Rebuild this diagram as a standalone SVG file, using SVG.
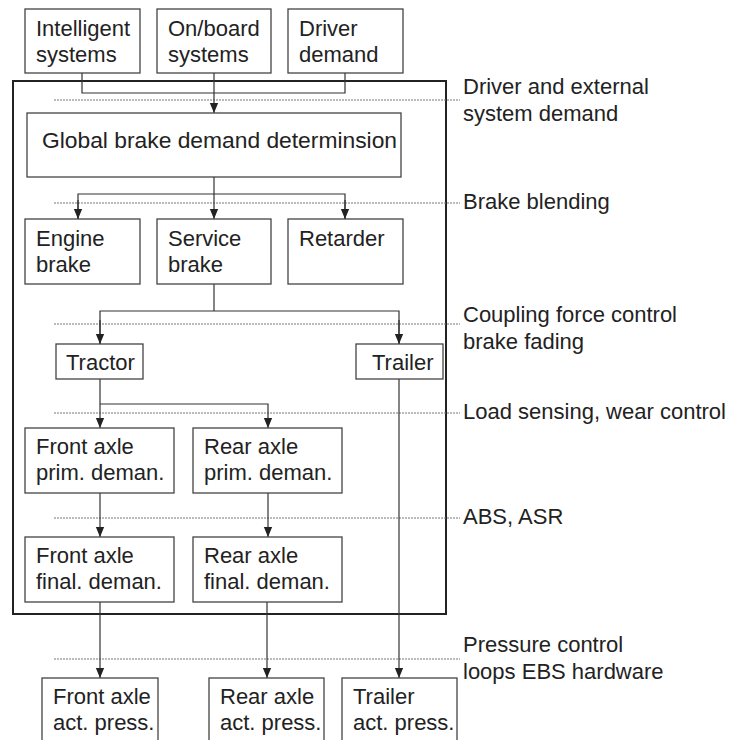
<svg xmlns="http://www.w3.org/2000/svg" width="736" height="740" viewBox="0 0 736 740">
<style>
.box{fill:#fff;stroke:#444;stroke-width:1.3}
.outer{fill:none;stroke:#222;stroke-width:2}
.t{font-family:"Liberation Sans",Arial,sans-serif;font-size:22px;fill:#222}
.c{fill:none;stroke:#333;stroke-width:1.2}
.d{fill:none;stroke:#777;stroke-width:1;stroke-dasharray:2 1}
</style>
<defs>
<marker id="ah" markerUnits="userSpaceOnUse" markerWidth="10" markerHeight="12" viewBox="0 0 10 12" refX="5" refY="12" orient="auto-start-reverse">
<path d="M0,0 L10,0 L5,12 Z" fill="#222" transform="rotate(-90 5 6) translate(-1 1)"/>
</marker>
<marker id="a" markerUnits="userSpaceOnUse" markerWidth="10" markerHeight="12" viewBox="0 0 12 10" refX="12" refY="5" orient="auto">
<path d="M0,0 L12,5 L0,10 Z" fill="#222"/>
</marker>
</defs>
<rect class="outer" x="13" y="81" width="433" height="533"/>
<g id="guides">
<line class="d" x1="54" y1="100" x2="460" y2="100"/>
<line class="d" x1="54" y1="203" x2="460" y2="203"/>
<line class="d" x1="54" y1="324" x2="460" y2="324"/>
<line class="d" x1="54" y1="413" x2="460" y2="413"/>
<line class="d" x1="54" y1="518" x2="460" y2="518"/>
<line class="d" x1="54" y1="659" x2="460" y2="659"/>
<text class="t" x="463" y="94">Driver and external</text>
<text class="t" x="463" y="121">system demand</text>
<text class="t" x="463" y="209">Brake blending</text>
<text class="t" x="463" y="322">Coupling force control</text>
<text class="t" x="463" y="349">brake fading</text>
<text class="t" x="463" y="419">Load sensing, wear control</text>
<text class="t" x="463" y="524">ABS, ASR</text>
<text class="t" x="463" y="652">Pressure control</text>
<text class="t" x="463" y="679">loops EBS hardware</text>
</g>
<g id="connectors">
<polyline class="c" points="82,73 82,93 345,93 345,73"/>
<line class="c" x1="214" y1="73" x2="214" y2="113" marker-end="url(#a)"/>
<line class="c" x1="214" y1="177" x2="214" y2="219" marker-end="url(#a)"/>
<polyline class="c" points="78,219 78,194 345,194 345,219"/>
<line class="c" x1="78" y1="200" x2="78" y2="219" marker-end="url(#a)"/>
<line class="c" x1="345" y1="200" x2="345" y2="219" marker-end="url(#a)"/>
<line class="c" x1="214" y1="284" x2="214" y2="311"/>
<polyline class="c" points="100,344 100,311 399,311 399,344"/>
<line class="c" x1="100" y1="320" x2="100" y2="344" marker-end="url(#a)"/>
<line class="c" x1="399" y1="320" x2="399" y2="344" marker-end="url(#a)"/>
<line class="c" x1="100" y1="379" x2="100" y2="428" marker-end="url(#a)"/>
<polyline class="c" points="100,404 268,404 268,428" marker-end="url(#a)"/>
<line class="c" x1="100" y1="493" x2="100" y2="537" marker-end="url(#a)"/>
<line class="c" x1="268" y1="493" x2="268" y2="537" marker-end="url(#a)"/>
<line class="c" x1="100" y1="602" x2="100" y2="678" marker-end="url(#a)"/>
<line class="c" x1="267" y1="602" x2="267" y2="678" marker-end="url(#a)"/>
<line class="c" x1="399" y1="379" x2="399" y2="678" marker-end="url(#a)"/>
</g>
<g id="intelligent"><rect class="box" x="25" y="9" width="115" height="64"/><text class="t" x="36" y="36">Intelligent</text><text class="t" x="36" y="62">systems</text></g>
<g id="onboard"><rect class="box" x="157" y="9" width="114" height="64"/><text class="t" x="168" y="36">On/board</text><text class="t" x="168" y="62">systems</text></g>
<g id="driver"><rect class="box" x="288" y="9" width="115" height="64"/><text class="t" x="299" y="36">Driver</text><text class="t" x="299" y="62">demand</text></g>
<g id="global"><rect class="box" x="27" y="113" width="374" height="64"/><text class="t" x="42" y="148" textLength="355" lengthAdjust="spacingAndGlyphs">Global brake demand determinsion</text></g>
<g id="engine"><rect class="box" x="25" y="219" width="115" height="65"/><text class="t" x="36" y="246">Engine</text><text class="t" x="36" y="272">brake</text></g>
<g id="service"><rect class="box" x="157" y="219" width="114" height="65"/><text class="t" x="168" y="246">Service</text><text class="t" x="168" y="272">brake</text></g>
<g id="retarder"><rect class="box" x="288" y="219" width="115" height="65"/><text class="t" x="299" y="246">Retarder</text></g>
<g id="tractor"><rect class="box" x="56" y="344" width="87" height="35"/><text class="t" x="66" y="370">Tractor</text></g>
<g id="trailer"><rect class="box" x="356" y="344" width="87" height="35"/><text class="t" x="372" y="370">Trailer</text></g>
<g id="front-prim"><rect class="box" x="25" y="428" width="149" height="65"/><text class="t" x="36" y="454">Front axle</text><text class="t" x="36" y="480">prim. deman.</text></g>
<g id="rear-prim"><rect class="box" x="193" y="428" width="149" height="65"/><text class="t" x="204" y="454">Rear axle</text><text class="t" x="204" y="480">prim. deman.</text></g>
<g id="front-final"><rect class="box" x="25" y="537" width="149" height="65"/><text class="t" x="36" y="563">Front axle</text><text class="t" x="36" y="589">final. deman.</text></g>
<g id="rear-final"><rect class="box" x="193" y="537" width="149" height="65"/><text class="t" x="204" y="563">Rear axle</text><text class="t" x="204" y="589">final. deman.</text></g>
<g id="front-act"><rect class="box" x="42" y="678" width="116" height="80"/><text class="t" x="53" y="704">Front axle</text><text class="t" x="53" y="730">act. press.</text></g>
<g id="rear-act"><rect class="box" x="209" y="678" width="115" height="80"/><text class="t" x="220" y="704">Rear axle</text><text class="t" x="220" y="730">act. press.</text></g>
<g id="trailer-act"><rect class="box" x="342" y="678" width="115" height="80"/><text class="t" x="353" y="704">Trailer</text><text class="t" x="353" y="730">act. press.</text></g>
</svg>
